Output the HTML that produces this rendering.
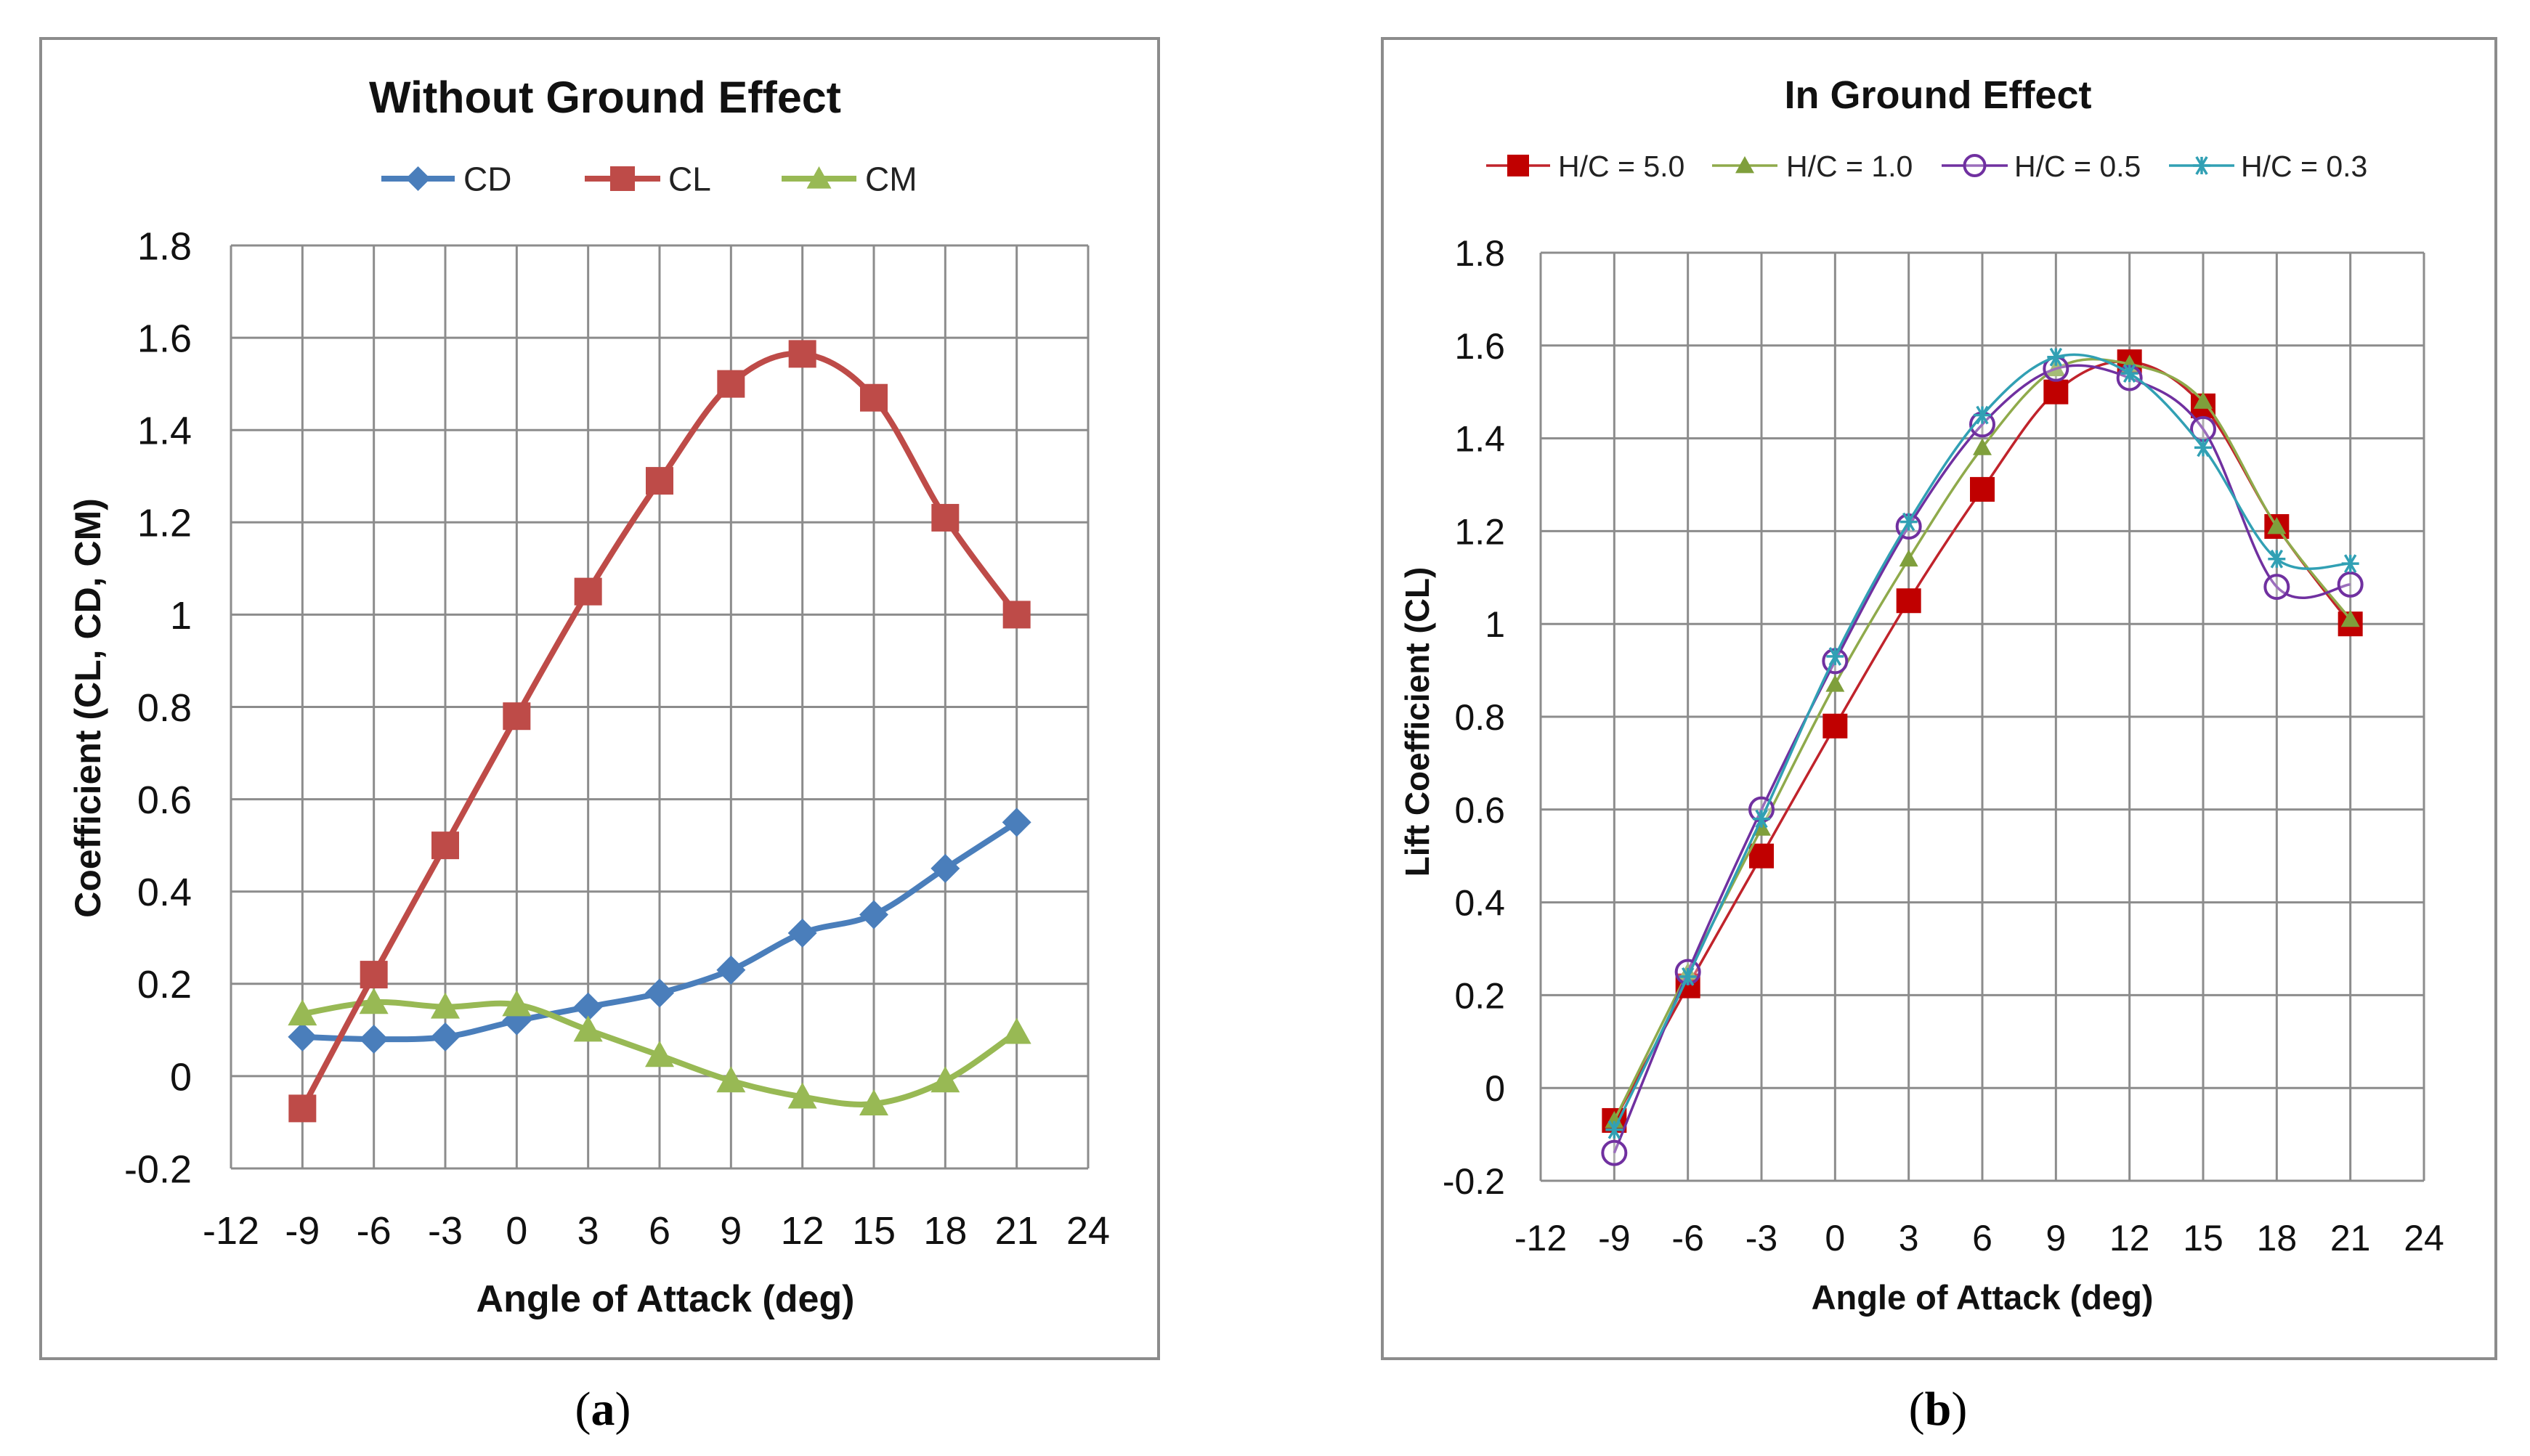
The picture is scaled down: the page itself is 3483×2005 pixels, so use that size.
<!DOCTYPE html>
<html><head><meta charset="utf-8"><style>
html,body{margin:0;padding:0;background:#fff;}
svg{display:block;font-family:"Liberation Sans",sans-serif;}
</style></head><body>
<svg id="root" width="3483" height="2005" viewBox="0 0 3483 2005" xmlns="http://www.w3.org/2000/svg">
<rect x="56" y="53" width="1539" height="1818" fill="#fff" stroke="#8c8c8c" stroke-width="4"/>
<rect x="1903" y="53" width="1533" height="1818" fill="#fff" stroke="#8c8c8c" stroke-width="4"/>
<text x="833" y="155" text-anchor="middle" font-size="61" font-weight="bold" fill="#111">Without Ground Effect</text>
<text x="2668" y="149" text-anchor="middle" font-size="54" font-weight="bold" fill="#111">In Ground Effect</text>
<text x="916" y="1806" text-anchor="middle" font-size="52" font-weight="bold" fill="#111">Angle of Attack (deg)</text>
<text x="2729" y="1803" text-anchor="middle" font-size="47" font-weight="bold" fill="#111">Angle of Attack (deg)</text>
<text transform="translate(138,975) rotate(-90)" text-anchor="middle" font-size="50" font-weight="bold" fill="#111">Coefficient (CL, CD, CM)</text>
<text transform="translate(1967,994) rotate(-90)" text-anchor="middle" font-size="46" font-weight="bold" fill="#111">Lift Coefficient (CL)</text>
<text x="830" y="1962" text-anchor="middle" font-size="66" font-family="Liberation Serif, serif" fill="#000">(<tspan font-weight="bold">a</tspan>)</text>
<text x="2668" y="1962" text-anchor="middle" font-size="66" font-family="Liberation Serif, serif" fill="#000">(<tspan font-weight="bold">b</tspan>)</text>
<g id="ga"></g><g id="gb"></g>
</svg>
<script>
const xTicks = [-12,-9,-6,-3,0,3,6,9,12,15,18,21,24];
const yTicks = [-0.2,0,0.2,0.4,0.6,0.8,1,1.2,1.4,1.6,1.8];
const yTickLabels = ["-0.2","0","0.2","0.4","0.6","0.8","1","1.2","1.4","1.6","1.8"];
const alpha = [-9,-6,-3,0,3,6,9,12,15,18,21];
const cdValues = [0.085,0.08,0.085,0.12,0.15,0.18,0.23,0.31,0.35,0.45,0.55];
const clValues = [-0.07,0.22,0.50,0.78,1.05,1.29,1.50,1.565,1.47,1.21,1.00];
const cmValues = [0.135,0.16,0.15,0.155,0.10,0.045,-0.01,-0.045,-0.06,-0.01,0.095];
const hc50Values = [-0.07,0.22,0.50,0.78,1.05,1.29,1.50,1.565,1.47,1.21,1.00];
const hc10Values = [-0.07,0.25,0.56,0.87,1.14,1.38,1.55,1.56,1.48,1.21,1.01];
const hc05Values = [-0.14,0.25,0.60,0.92,1.21,1.43,1.55,1.53,1.42,1.08,1.085];
const hc03Values = [-0.09,0.24,0.58,0.93,1.22,1.45,1.575,1.54,1.38,1.14,1.13];

const NS="http://www.w3.org/2000/svg";
function mk(tag, attrs, parent){const e=document.createElementNS(NS,tag);for(const k in attrs)e.setAttribute(k,attrs[k]);parent.appendChild(e);return e;}

function drawChart(g, box, series, opts){
  const xs = v => box.l + (v - xTicks[0])/(xTicks[xTicks.length-1]-xTicks[0])*(box.r-box.l);
  const ys = v => box.b - (v - yTicks[0])/(yTicks[yTicks.length-1]-yTicks[0])*(box.b-box.t);
  xTicks.forEach(t=>{
    const l=mk('line',{x1:xs(t),x2:xs(t),y1:box.t,y2:box.b,stroke:'#8c8c8c','stroke-width':3},g);
    
    
    const tx=mk('text',{x:xs(t),y:opts.xLabelY,'text-anchor':'middle','font-size':opts.tickFont,fill:'#111'},g);
    tx.textContent=String(t);
    
    
  });
  yTicks.forEach((t,i)=>{
    const l=mk('line',{x1:box.l,x2:box.r,y1:ys(t),y2:ys(t),stroke:'#8c8c8c','stroke-width':3},g);
    
    
    const tx=mk('text',{x:opts.yLabelX,y:ys(t)+opts.tickFont*0.36,'text-anchor':'end','font-size':opts.tickFont,fill:'#111'},g);
    tx.textContent=yTickLabels[i];
    
    
  });
  series.forEach(s=>{
    const pts=alpha.map((a,i)=>[xs(a),ys(s.values[i])]);
    let d='M'+pts[0][0]+','+pts[0][1];
    for(let i=0;i<pts.length-1;i++){
      const p0=pts[Math.max(0,i-1)],p1=pts[i],p2=pts[i+1],p3=pts[Math.min(pts.length-1,i+2)];
      const k=6;
      d+=' C'+(p1[0]+(p2[0]-p0[0])/k)+','+(p1[1]+(p2[1]-p0[1])/k)+' '+(p2[0]-(p3[0]-p1[0])/k)+','+(p2[1]-(p3[1]-p1[1])/k)+' '+p2[0]+','+p2[1];
    }
    const path=mk('path',{d:d,fill:'none',stroke:s.color,'stroke-width':s.lw},g);
    
    
    pts.forEach(p=>{
      const m=marker(g,s,p[0],p[1],s.size);
      
      
    });
    const L=s.legend;
    const ll=mk('line',{x1:L.x1,x2:L.x2,y1:L.y,y2:L.y,stroke:s.color,'stroke-width':s.lw},g);
    
    
    const lm=marker(g,s,(L.x1+L.x2)/2,L.y,s.lsize);
    
    
    const lt=mk('text',{x:L.tx,y:L.y+opts.legendFont*0.36,'font-size':opts.legendFont,fill:'#222'},g);
    lt.textContent=s.label;
    
    
  });
}
function marker(g,s,x,y,r){
  const c=s.mcolor||s.color;
  if(s.shape==='square') return mk('rect',{x:x-r,y:y-r,width:2*r,height:2*r,fill:c},g);
  if(s.shape==='diamond') return mk('polygon',{points:`${x},${y-r} ${x+r},${y} ${x},${y+r} ${x-r},${y}`,fill:c},g);
  if(s.shape==='triangle') return mk('polygon',{points:`${x},${y-r} ${x+r},${y+r*0.8} ${x-r},${y+r*0.8}`,fill:c},g);
  if(s.shape==='circle') return mk('circle',{cx:x,cy:y,r:r,fill:'#fff','fill-opacity':0.3,stroke:c,'stroke-width':4},g);
  if(s.shape==='star'){const e=mk('path',{d:`M${x-r},${y}H${x+r}M${x-r*0.6},${y-r}L${x+r*0.6},${y+r}M${x+r*0.6},${y-r}L${x-r*0.6},${y+r}M${x},${y-r}V${y+r}`,stroke:c,'stroke-width':3.5},g);return e;}
}
const ga=document.getElementById('ga');


drawChart(ga,{l:318,r:1498,t:338,b:1609},[
  {name:'cd',label:'CD',values:cdValues,color:'#4a7ebb',shape:'diamond',lw:8,size:20,lsize:17,legend:{x1:525,x2:626,y:246,tx:638}},
  {name:'cm',label:'CM',values:cmValues,color:'#98b954',shape:'triangle',lw:8,size:20,lsize:17,legend:{x1:1076,x2:1179,y:246,tx:1191}},
  {name:'cl',label:'CL',values:clValues,color:'#be4b48',shape:'square',lw:8,size:19,lsize:17,legend:{x1:805,x2:909,y:246,tx:920}}
],{xLabelY:1713,yLabelX:264,tickFont:54,legendFont:46});
const gb=document.getElementById('gb');


drawChart(gb,{l:2121,r:3337,t:348,b:1626},[
  {name:'hc-5-0',label:'H/C = 5.0',values:hc50Values,color:'#c0232b',mcolor:'#c00000',shape:'square',lw:3.5,size:17,lsize:15,legend:{x1:2046,x2:2134,y:228,tx:2145}},
  {name:'hc-1-0',label:'H/C = 1.0',values:hc10Values,color:'#8faa4b',mcolor:'#7f9f3c',shape:'triangle',lw:3.5,size:13,lsize:13,legend:{x1:2357,x2:2447,y:228,tx:2459}},
  {name:'hc-0-5',label:'H/C = 0.5',values:hc05Values,color:'#7030a0',shape:'circle',lw:3.5,size:16,lsize:14,legend:{x1:2673,x2:2764,y:228,tx:2773}},
  {name:'hc-0-3',label:'H/C = 0.3',values:hc03Values,color:'#31a0b4',shape:'star',lw:3.5,size:12,lsize:12,legend:{x1:2986,x2:3076,y:228,tx:3085}}
],{xLabelY:1722,yLabelX:2072,tickFont:50,legendFont:41});
</script>
</body></html>
